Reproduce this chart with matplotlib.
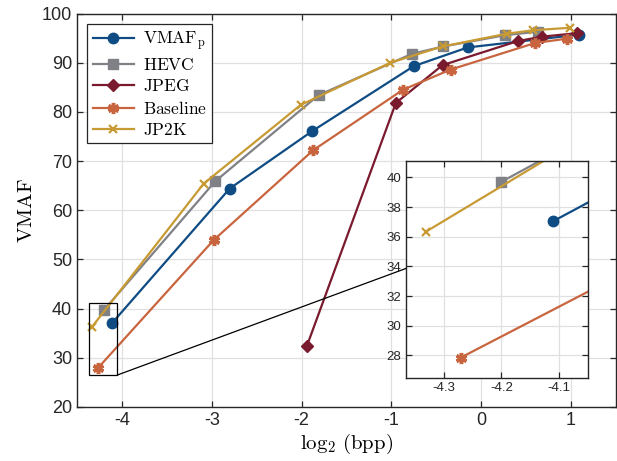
import matplotlib
matplotlib.use("Agg")
import matplotlib.pyplot as plt
from matplotlib.patches import Rectangle, ConnectionPatch

plt.rcParams['font.family'] = ['Liberation Sans', 'DejaVu Sans']
plt.rcParams['mathtext.fontset'] = 'cm'
plt.rcParams['axes.unicode_minus'] = False

# data
vmaf_x = [-4.11, -2.80, -1.88, -0.75, -0.15, 1.09]
vmaf_y = [37.05, 64.4, 76.1, 89.3, 93.1, 95.7]
hevc_x = [-4.20, -2.96, -1.81, -0.77, -0.42, 0.27, 0.63]
hevc_y = [39.7, 65.9, 83.4, 91.8, 93.3, 95.6, 96.3]
jpeg_x = [-1.94, -0.95, -0.43, 0.41, 0.68, 1.07]
jpeg_y = [32.4, 81.8, 89.5, 94.4, 95.3, 96.0]
base_x = [-4.27, -2.98, -1.87, -0.87, -0.34, 0.60, 0.96]
base_y = [27.85, 53.9, 72.2, 84.5, 88.6, 94.0, 94.9]
jp2k_x = [-4.33, -3.09, -2.01, -1.01, -0.43, 0.29, 0.58, 0.99]
jp2k_y = [36.35, 65.4, 81.4, 90.0, 93.3, 95.9, 96.6, 97.1]

labels = [r'$\mathrm{VMAF_p}$', r'$\mathrm{HEVC}$', r'$\mathrm{JPEG}$',
          r'$\mathrm{Baseline}$', r'$\mathrm{JP2K}$']
colors = ['#0f4c84', '#808087', '#7a1a2e', '#c8653f', '#c89a34']
series = [(vmaf_x, vmaf_y), (hevc_x, hevc_y), (jpeg_x, jpeg_y),
          (base_x, base_y), (jp2k_x, jp2k_y)]
mk = [dict(marker='o', ms=7.5), dict(marker='s', ms=6.5), dict(marker='D', ms=6),
      dict(marker=(6, 2, 0), ms=8, mew=2.5), dict(marker='x', ms=6, mew=1.6)]


def style(ax, fs):
    ax.tick_params(direction='in', top=True, right=True, labelsize=fs,
                   colors='#262626', length=4, width=0.9)
    ax.grid(True, color='#e0e0e0', lw=0.9)
    ax.set_axisbelow(True)
    for s in ax.spines.values():
        s.set_color('#262626')
        s.set_linewidth(1.0)


fig = plt.figure(figsize=(6.17, 4.61), dpi=100)
ax = fig.add_axes([0.1248, 0.1172, 0.8733, 0.8535])
for (x, y), c, lab, m in zip(series, colors, labels, mk):
    ax.plot(x, y, color=c, lw=1.6, label=lab, mfc=c, mec=c, **m)
ax.set_xlim(-4.5, 1.5)
ax.set_ylim(20, 100)
ax.set_xticks([-4, -3, -2, -1, 0, 1])
ax.set_yticks(range(20, 101, 10))
style(ax, 13)
ax.set_xlabel(r'$\log_2\,(\mathrm{bpp})$', fontsize=15, labelpad=2)
ax.set_ylabel(r'$\mathrm{VMAF}$', fontsize=15, labelpad=4)
leg = ax.legend(loc='upper left', fontsize=12.5, handlelength=2.4, fancybox=False,
                edgecolor='#262626', framealpha=1, borderaxespad=0.6,
                labelspacing=0.3, handletextpad=0.5, borderpad=0.3)
leg.get_frame().set_linewidth(0.9)

# zoom box
x0, x1, y0, y1 = -4.365, -4.05, 26.5, 41.1
ax.add_patch(Rectangle((x0, y0), x1 - x0, y1 - y0, fill=False, ec='black', lw=0.9, zorder=5))

ins = fig.add_axes([0.658, 0.181, 0.295, 0.4696])
for (x, y), c, m in zip(series, colors, mk):
    ins.plot(x, y, color=c, lw=1.6, mfc=c, mec=c, **m)
ins.set_xlim(x0, x1)
ins.set_ylim(y0, y1)
ins.set_xticks([-4.3, -4.2, -4.1])
ins.set_yticks(range(28, 41, 2))
style(ins, 9.5)

con = ConnectionPatch(xyA=(x1, y0), coordsA=ax.transData,
                      xyB=(0, 0.504), coordsB=ins.transAxes, color='black', lw=0.9)
fig.add_artist(con)

fig.savefig('out.png', dpi=100)
